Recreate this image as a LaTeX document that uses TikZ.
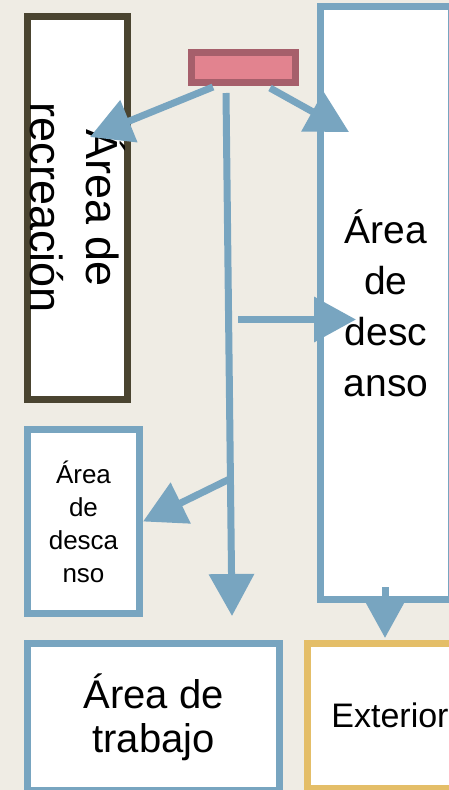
\documentclass[tikz,border=0pt]{standalone}
\usepackage{fontspec}
\setmainfont{Liberation Sans}
\usetikzlibrary{arrows.meta}
\definecolor{bg}{HTML}{EFECE4}
\definecolor{blu}{HTML}{78A5C0}
\definecolor{olive}{HTML}{4A4430}
\definecolor{pinkb}{HTML}{A65F6B}
\definecolor{pinkf}{HTML}{E2838F}
\definecolor{gold}{HTML}{E4BE68}
\begin{document}
\begin{tikzpicture}[x=1pt,y=-1pt,
  box/.style={draw, line width=7pt, fill=white, inner sep=0pt, align=center},
  arr/.style={color=blu, line width=7pt, -{Triangle[length=42pt,width=44pt]}}]
\useasboundingbox (0,0) rectangle (449,790);
\fill[bg] (0,0) rectangle (449,790);
% boxes
\node[box, draw=olive, minimum width=100pt, minimum height=383pt,
  label={[rotate=-90, align=center, inner sep=0pt, font={\fontsize{45}{56}\selectfont}]center:Área de\\recreación}] (rec) at (77.5,208) {};
\node[box, draw=blu, minimum width=130.5pt, minimum height=592.5pt, font={\fontsize{39}{51}\selectfont}] (d1) at (386,303)
  {Área\\de\\desc\\anso};
\node[box, draw=blu, minimum width=112pt, minimum height=184pt, font={\fontsize{26}{33}\selectfont}] (d2) at (83.5,521.5)
  {Área\\de\\desca\\nso};
\node[box, draw=blu, minimum width=252pt, minimum height=146.7pt, font={\fontsize{40}{44}\selectfont}] (tr) at (153.5,717)
  {Área de\\trabajo};
\node[box, draw=gold, minimum width=166pt, minimum height=145.5pt, font={\fontsize{34}{40}\selectfont}] (ex) at (390,715.75)
  {Exterior};
\node[draw=pinkb, fill=pinkf, line width=7pt, inner sep=0pt, minimum width=103.5pt, minimum height=30.5pt] (pk) at (243.7,67.7) {};
% connector end points
\coordinate (a1s) at (213,87);
\coordinate (a1t) at (90,137);
\coordinate (a2s) at (270,88);
\coordinate (a2t) at (349,132);
\coordinate (vs) at (226,93);
\coordinate (vt) at (232,616);
\coordinate (hs) at (238,319.5);
\coordinate (ht) at (356,319.5);
\coordinate (bs) at (231.7,478);
\coordinate (es) at (385,587);
\coordinate (et) at (385,638);
% connectors
\draw[arr] (a1s) -- (a1t);
\draw[arr] (a2s) -- (a2t);
\draw[arr] (vs) -- (vt);
\draw[arr] (hs) -- (ht);
\draw[arr] (bs) -- (d2.east);
\draw[arr] (es) -- (et);
\end{tikzpicture}
\end{document}
